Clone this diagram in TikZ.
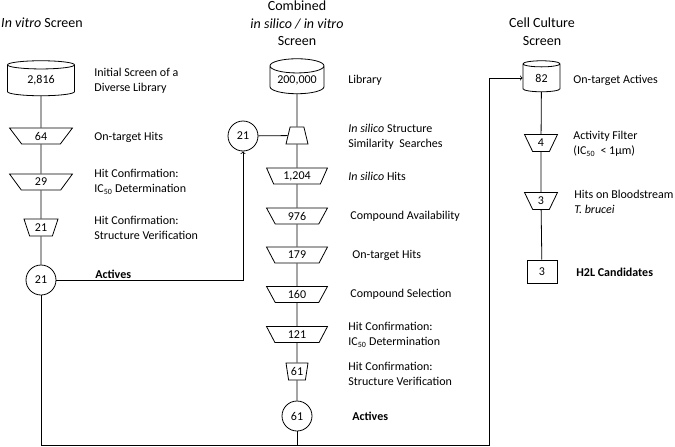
\documentclass[tikz,border=0pt]{standalone}
\usepackage{fontspec}
\setmainfont{Carlito}
\usetikzlibrary{shapes.geometric,positioning}

\tikzset{
  lbl/.style={anchor=west, align=left, inner sep=0pt, font=\fontsize{12}{15}\selectfont},
  ttl/.style={align=center, inner sep=0pt, font=\fontsize{14}{17.5}\selectfont},
  db/.style={cylinder, shape border rotate=90, draw, aspect=0.25, inner sep=0pt,
    font=\fontsize{12}{14}\selectfont},
  funnel/.style={trapezium, shape border rotate=180, draw, trapezium stretches=true,
    inner sep=0pt, font=\fontsize{12}{14}\selectfont},
  cone/.style={trapezium, draw, trapezium stretches=true, inner sep=0pt,
    font=\fontsize{12}{14}\selectfont},
  pool/.style={circle, draw, minimum size=30, inner sep=0pt, font=\fontsize{12}{14}\selectfont},
  box/.style={rectangle, draw, minimum width=30, minimum height=23, inner sep=0pt,
    font=\fontsize{12}{14}\selectfont}
}

\begin{document}
\begin{tikzpicture}[x=1pt,y=-1pt,line width=0.8pt]
\useasboundingbox (0,0) rectangle (675,447);

% titles
\node[ttl] (tvitro) at (42,23) {\textit{In vitro} Screen};
\node[ttl] (tcomb) at (297,23.5) {Combined\\\textit{in silico / in vitro}\\Screen};
\node[ttl] (tcell) at (542,31.5) {Cell Culture\\Screen};

% in vitro screen
\node[db, minimum width=67, minimum height=35, aspect=0.3] (lib1) at (41,80.5) {2,816};
\node[funnel, minimum width=63, minimum height=16, trapezium angle=65] (h64) at (41,136) {64};
\node[funnel, minimum width=63, minimum height=16, trapezium angle=65] (h29) at (41,182) {29};
\node[funnel, minimum width=34, minimum height=17, trapezium angle=69] (h21) at (41,227.5) {21};
\node[pool] (act21) at (41,280) {21};

\node[lbl] (l2816) at (94,80.5) {Initial Screen of a\\Diverse Library};
\node[lbl] (l64) at (94,137) {On-target Hits};
\node[lbl] (l29) at (94,181.5) {Hit Confirmation:\\IC\textsubscript{50} Determination};
\node[lbl] (l21) at (94,228) {Hit Confirmation:\\Structure Verification};
\node[lbl, anchor=base west] (lact21) at (95,278) {\textbf{Actives}};

\draw (lib1) -- (h64) -- (h29) -- (h21) -- (act21);

% combined screen
\node[db, minimum width=54, minimum height=35, aspect=0.36] (lib2) at (297,80) {200,000};
\node[cone, minimum width=22, minimum height=17, trapezium angle=77] (sim) at (297,135.5) {\phantom{0}};
\node[pool] (ss21) at (243,136) {21};
\node[funnel, minimum width=61, minimum height=16, trapezium angle=66] (h1204) at (297,176) {1,204};
\node[funnel, minimum width=61, minimum height=16, trapezium angle=66] (h976) at (297,216) {976};
\node[funnel, minimum width=61, minimum height=16, trapezium angle=66] (h179) at (297,255) {179};
\node[funnel, minimum width=61, minimum height=16, trapezium angle=66] (h160) at (297,294.5) {160};
\node[funnel, minimum width=61, minimum height=16, trapezium angle=66] (h121) at (297,334.5) {121};
\node[funnel, minimum width=22, minimum height=17, trapezium angle=77] (h61) at (297,371.5) {61};
\node[pool] (act61) at (297,416) {61};

\node[lbl] (llib) at (348,80) {Library};
\node[lbl] (lsim) at (348,136.5) {\textit{In silico} Structure\\Similarity\ \ Searches};
\node[lbl] (l1204) at (348,176) {\textit{In silico} Hits};
\node[lbl] (l976) at (350,216) {Compound Availability};
\node[lbl] (l179) at (352,255) {On-target Hits};
\node[lbl] (l160) at (350,294.5) {Compound Selection};
\node[lbl] (l121) at (348,334.5) {Hit Confirmation:\\IC\textsubscript{50} Determination};
\node[lbl] (l61) at (348,373.5) {Hit Confirmation:\\Structure Verification};
\node[lbl] (lact61) at (352,416) {\textbf{Actives}};

\draw (ss21) -- (sim);
\draw (lib2) -- (sim) -- (h1204) -- (h976) -- (h179) -- (h160) -- (h121) -- (h61) -- (act61);

% cell culture screen
\node[db, minimum width=37, minimum height=31, aspect=0.5] (lib3) at (541.5,78) {82};
\node[funnel, minimum width=33, minimum height=17, trapezium angle=69] (f4) at (541,143) {4};
\node[funnel, minimum width=33, minimum height=17, trapezium angle=69] (f3) at (541,201) {3};
\node[box] (cand) at (542,271.5) {3};

\node[lbl] (l82) at (573,80) {On-target Actives};
\node[lbl] (l4) at (573,143.5) {Activity Filter\\(IC\textsubscript{50}\ \ < 1µm)};
\node[lbl] (l3) at (574,201.5) {Hits on Bloodstream\\\textit{T. brucei}};
\node[lbl] (lcand) at (576,272) {\textbf{H2L Candidates}};

\draw (lib3) -- (f4) -- (f3) -- (cand);

% links between screens
\coordinate (br) at (489,445);
\draw[->] (act21) -| (ss21);
\draw[->] (act21) |- (br) |- (lib3);
\draw (act61) -- (act61 |- br);
\end{tikzpicture}
\end{document}
